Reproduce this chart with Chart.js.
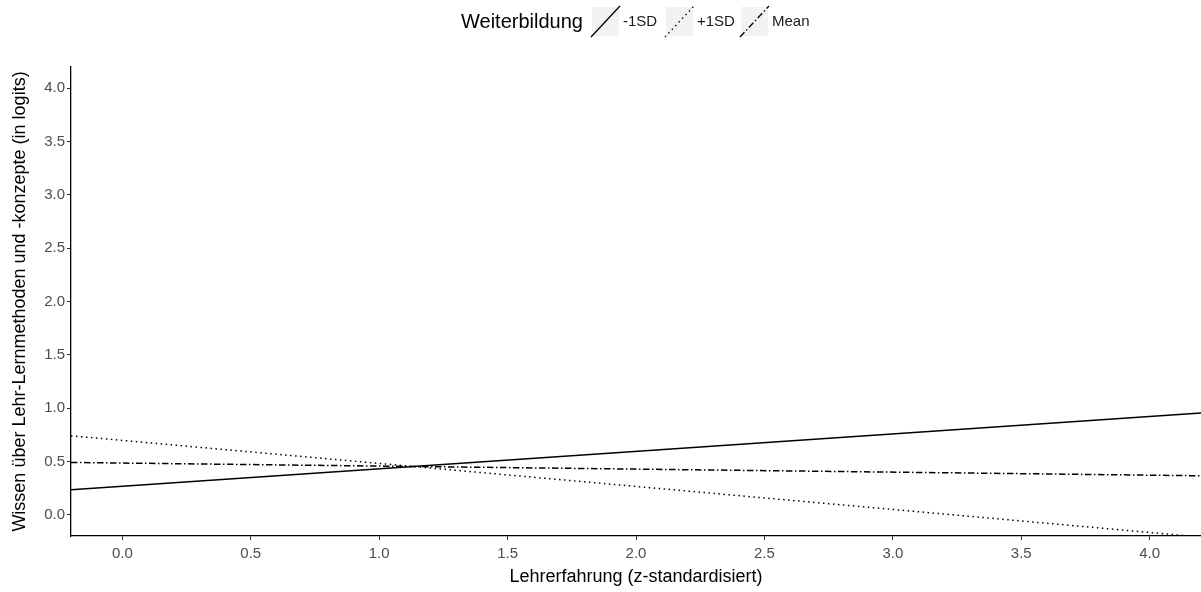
<!DOCTYPE html>
<html>
<head>
<meta charset="utf-8">
<script src="https://cdn.jsdelivr.net/npm/chart.js@4"></script>
<style>
  html, body { margin: 0; padding: 0; background: #fff; }
  #wrap { width: 1201px; height: 592px; }
</style>
</head>
<body>
<div id="wrap"><canvas id="chart" width="1201" height="592"></canvas></div>
<script>
// values
var xValues   = [-0.2, 4.2];
var minusSD   = [0.234, 0.953];
var plusSD    = [0.74, -0.21];
var meanVals  = [0.49, 0.365];
var seriesNames = ['-1SD', '+1SD', 'Mean'];
var legendTitle = 'Weiterbildung';

var FONT = "'Liberation Sans', Arial, sans-serif";
var dashes = [[], [1.5, 3.5], [6.5, 2.5, 1.5, 2.5]];

function toPoints(vals) {
  return xValues.map(function(x, i){ return {x: x, y: vals[i]}; });
}

// legend drawn inline like ggplot (title left of the keys)
var ggLegend = {
  id: 'ggLegend',
  afterDraw: function(chart) {
    var ctx = chart.ctx;
    ctx.save();
    ctx.textBaseline = 'middle';
    ctx.fillStyle = '#000';
    ctx.font = '20px ' + FONT;
    ctx.fillText(legendTitle, 461, 22);
    var keyX = [592, 666, 741];
    ctx.font = '15px ' + FONT;
    chart.data.datasets.forEach(function(ds, i){
      var x = keyX[i];
      ctx.fillStyle = '#f2f2f2';
      ctx.fillRect(x, 7, 27, 29);
      ctx.strokeStyle = '#000';
      ctx.lineWidth = 1.3;
      ctx.setLineDash(ds.borderDash || []);
      ctx.beginPath();
      ctx.moveTo(x - 1, 37);
      ctx.lineTo(x + 28, 6);
      ctx.stroke();
      ctx.setLineDash([]);
      ctx.fillStyle = '#1a1a1a';
      ctx.fillText(ds.label, x + 31, 22);
    });
    ctx.restore();
  }
};

var ctx = document.getElementById('chart').getContext('2d');
new Chart(ctx, {
  type: 'line',
  data: {
    datasets: [minusSD, plusSD, meanVals].map(function(vals, i){
      return {
        label: seriesNames[i],
        data: toPoints(vals),
        borderColor: '#000',
        borderWidth: 1.5,
        borderDash: dashes[i],
        pointRadius: 0,
        fill: false,
        tension: 0
      };
    })
  },
  options: {
    responsive: false,
    animation: false,
    layout: { padding: { top: 67, right: 0, left: 0, bottom: 0 } },
    plugins: {
      legend: { display: false },
      tooltip: { enabled: false }
    },
    scales: {
      x: {
        type: 'linear',
        min: -0.2,
        max: 4.2,
        border: { display: true, color: '#000', width: 1.3 },
        grid: { drawOnChartArea: false, drawTicks: true, tickLength: 4, color: '#333' },
        ticks: {
          stepSize: 0.5,
          includeBounds: false,
          color: '#4d4d4d',
          font: { family: FONT, size: 15 },
          padding: 5,
          maxRotation: 0,
          callback: function(v){ return Number(v).toFixed(1); }
        },
        title: {
          display: true,
          text: 'Lehrerfahrung (z-standardisiert)',
          color: '#000',
          font: { family: FONT, size: 18 },
          padding: { top: 0, bottom: 4 }
        },
        afterFit: function(scale){ scale.height = 56; }
      },
      y: {
        type: 'linear',
        min: -0.2,
        max: 4.2,
        border: { display: true, color: '#000', width: 1.3 },
        grid: { drawOnChartArea: false, drawTicks: true, tickLength: 4, color: '#333' },
        ticks: {
          stepSize: 0.5,
          includeBounds: false,
          color: '#4d4d4d',
          font: { family: FONT, size: 15 },
          padding: 2,
          callback: function(v){ return Number(v).toFixed(1); }
        },
        title: {
          display: true,
          text: 'Wissen über Lehr-Lernmethoden und -konzepte (in logits)',
          color: '#000',
          font: { family: FONT, size: 18 },
          padding: { top: 9, bottom: 0 }
        },
        afterFit: function(scale){ scale.width = 71; }
      }
    }
  },
  plugins: [ggLegend]
});
</script>
</body>
</html>
